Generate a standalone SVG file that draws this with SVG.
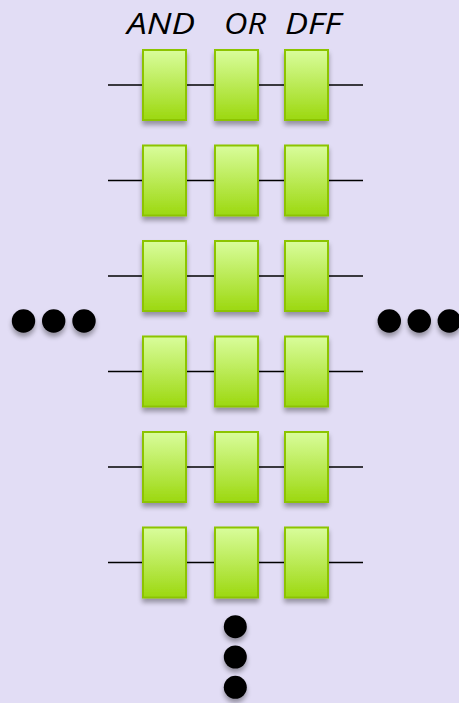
<svg xmlns="http://www.w3.org/2000/svg" width="459" height="703" viewBox="0 0 459 703">
<defs>
<linearGradient id="g" x1="0" y1="0" x2="0" y2="1">
<stop offset="0" stop-color="#d9fd9c"/>
<stop offset="1" stop-color="#9cd80f"/>
</linearGradient>
<filter id="sh" x="-30%" y="-30%" width="160%" height="170%">
<feGaussianBlur in="SourceAlpha" stdDeviation="2.5"/>
<feOffset dx="0" dy="4" result="b"/>
<feComponentTransfer><feFuncA type="linear" slope="0.35"/></feComponentTransfer>
<feMerge><feMergeNode/><feMergeNode in="SourceGraphic"/></feMerge>
</filter>
<style>
.box{fill:url(#g);stroke:#8cc400;stroke-width:2}
.w{stroke:#000;stroke-width:1.3;fill:none}
.d{fill:#000}
.t{font-family:"Open Sans","Liberation Sans",sans-serif;font-style:italic;font-size:30px;fill:#000}
</style>
<g id="cell"><rect class="box" x="0" y="0" width="43" height="70" filter="url(#sh)"/></g>
</defs>
<rect width="459" height="703" fill="#e2ddf5"/>
<g id="labels">
<text class="t" x="127" y="34" textLength="68" lengthAdjust="spacingAndGlyphs">AND</text>
<text class="t" x="224" y="34" textLength="42" lengthAdjust="spacingAndGlyphs">OR</text>
<text class="t" x="285" y="34" textLength="56" lengthAdjust="spacingAndGlyphs">DFF</text>
</g>
<g id="connectors">
<line class="w" x1="108" y1="85" x2="363" y2="85"/>
<line class="w" x1="108" y1="180.5" x2="363" y2="180.5"/>
<line class="w" x1="108" y1="276" x2="363" y2="276"/>
<line class="w" x1="108" y1="371.5" x2="363" y2="371.5"/>
<line class="w" x1="108" y1="467" x2="363" y2="467"/>
<line class="w" x1="108" y1="562.5" x2="363" y2="562.5"/>
</g>
<g id="row1"><use href="#cell" x="143" y="50"/><use href="#cell" x="215" y="50"/><use href="#cell" x="285" y="50"/></g>
<g id="row2"><use href="#cell" x="143" y="145.5"/><use href="#cell" x="215" y="145.5"/><use href="#cell" x="285" y="145.5"/></g>
<g id="row3"><use href="#cell" x="143" y="241"/><use href="#cell" x="215" y="241"/><use href="#cell" x="285" y="241"/></g>
<g id="row4"><use href="#cell" x="143" y="336.5"/><use href="#cell" x="215" y="336.5"/><use href="#cell" x="285" y="336.5"/></g>
<g id="row5"><use href="#cell" x="143" y="432"/><use href="#cell" x="215" y="432"/><use href="#cell" x="285" y="432"/></g>
<g id="row6"><use href="#cell" x="143" y="527.5"/><use href="#cell" x="215" y="527.5"/><use href="#cell" x="285" y="527.5"/></g>
<g id="dots" filter="url(#sh)">
<circle class="d" cx="23.5" cy="321" r="11.7"/>
<circle class="d" cx="53.7" cy="321" r="11.7"/>
<circle class="d" cx="84" cy="321" r="11.7"/>
<circle class="d" cx="389.3" cy="321" r="11.7"/>
<circle class="d" cx="419.3" cy="321" r="11.7"/>
<circle class="d" cx="449.3" cy="321" r="11.7"/>
<circle class="d" cx="235.3" cy="626.7" r="11.5"/>
<circle class="d" cx="235.3" cy="657" r="11.5"/>
<circle class="d" cx="235.3" cy="687.3" r="11.5"/>
</g>
</svg>
